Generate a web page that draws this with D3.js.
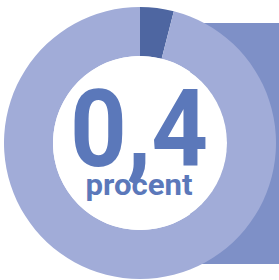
<!DOCTYPE html>
<html><head><meta charset="utf-8">
<script src="https://cdn.jsdelivr.net/npm/d3@7"></script>
<style>html,body{margin:0;padding:0;background:#fff;}svg{display:block;}</style>
</head><body>
<svg id="c" width="279" height="280"></svg>
<script>
const categories = ["andel", "rest"];
const values = [4, 96];
const valueLabel = "0,4";
const unitLabel = "procent";
const colors = ["#4E66A1", "#A1ACD8"];

const svg = d3.select("#c");
const cx = 140, cy = 143, R = 136, r = 87;

svg.append("rect").attr("x", 190).attr("y", 23).attr("width", 89).attr("height", 241).attr("fill", "#7E90C7");

const pie = d3.pie().sort(null).value(d => d)(values);
const arc = d3.arc().innerRadius(r).outerRadius(R);
const g = svg.append("g").attr("transform", `translate(${cx},${cy})`);
g.selectAll("path").data(pie).join("path")
  .attr("d", arc).attr("fill", (d, i) => colors[i]);
g.append("circle").attr("r", r).attr("fill", "#fff");

g.append("text").text(valueLabel)
  .attr("x", -1).attr("y", 23).attr("text-anchor", "middle")
  .attr("font-family", "Roboto").attr("font-weight", 700).attr("font-size", 108)
  .attr("textLength", 138).attr("lengthAdjust", "spacingAndGlyphs")
  .attr("fill", "#5B78BA");
g.append("text").text(unitLabel)
  .attr("x", -1).attr("y", 52).attr("text-anchor", "middle")
  .attr("font-family", "Roboto").attr("font-weight", 700).attr("font-size", 29)
  .attr("textLength", 107).attr("lengthAdjust", "spacingAndGlyphs")
  .attr("fill", "#5B78BA");
</script>
</body></html>
